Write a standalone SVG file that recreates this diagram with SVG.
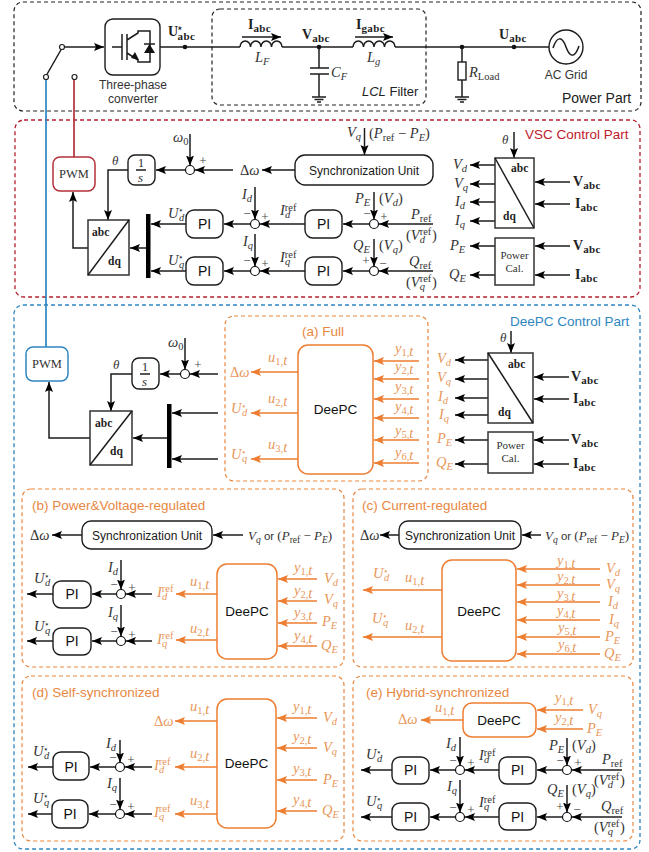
<svg xmlns="http://www.w3.org/2000/svg" width="649" height="852" viewBox="0 0 649 852">
<style>
text{font-family:"Liberation Sans",Arial,sans-serif;fill:#222}
.t{font-size:12px;text-anchor:middle;fill:#1a1a1a}
.sm{font-size:12px;text-anchor:middle;fill:#333}
.pi{font-size:14px;text-anchor:middle;fill:#111}
.dp{font-size:13.5px;text-anchor:middle;fill:#111}
.ttl{font-size:13.5px;fill:#e8873f}
.s{font-family:"Liberation Serif","Times New Roman",serif;font-size:12px;fill:#333;text-anchor:middle}
.b{font-family:"Liberation Serif",serif;font-size:14px;font-weight:bold;fill:#222}
.b tspan{font-size:11px;letter-spacing:.4px}
.m,.om{font-family:"Liberation Serif","Times New Roman",serif;font-size:14.5px;font-style:italic;fill:#333}
.om{fill:#e8975a}
.m tspan,.om tspan{font-size:10.5px}
.m tspan.n,.om tspan.n{font-size:14.5px}
.m tspan.st,.om tspan.st{font-size:9px}
.m.tt{font-size:13px}
.m.tt tspan{font-size:9.5px}
.m.tt tspan.n{font-size:13px}
.m.tt tspan.or{font-family:"Liberation Sans",sans-serif;font-size:11.5px}
.r{font-style:normal}
.pl{font-family:"Liberation Serif",serif;font-size:13px;fill:#444;text-anchor:middle}
.k{fill:none;stroke:#1c1c1c;stroke-width:1.5}
.ka{fill:none;stroke:#1c1c1c;stroke-width:1.5;marker-end:url(#ah)}
.oa{fill:none;stroke:#ed7d31;stroke-width:1.6;marker-end:url(#ao)}
.box{fill:#fff;stroke:#1c1c1c;stroke-width:1.4}
.obox{fill:#fff;stroke:#ed7d31;stroke-width:1.5}
.sq{fill:#fff;stroke:#333;stroke-width:1.5}
.sum{fill:#fff;stroke:#111;stroke-width:1.2}
.bar{fill:#000}
.dk{fill:none;stroke:#222;stroke-width:1.2;stroke-dasharray:4 3}
.dr{fill:none;stroke:#b4202c;stroke-width:1.3;stroke-dasharray:4 3}
.db{fill:none;stroke:#2e86c1;stroke-width:1.3;stroke-dasharray:4 3}
.do{fill:none;stroke:#e8873f;stroke-width:1.2;stroke-dasharray:4 3}
.term{fill:#fff;stroke:#222;stroke-width:1.2}
.dot{fill:#111}
</style>
<defs>
<marker id="ah" markerUnits="userSpaceOnUse" markerWidth="11" markerHeight="9" refX="10" refY="4" orient="auto"><path d="M0 0L10 4 0 8 2 4Z" fill="#000"/></marker>
<marker id="ao" markerUnits="userSpaceOnUse" markerWidth="11" markerHeight="9" refX="10" refY="4" orient="auto"><path d="M0 0L10 4 0 8 2 4Z" fill="#ed7d31"/></marker>
<g id="gnd"><path class="k" d="M-7 0H7M-4.500 2.500H4.500M-2 5H2"/></g>
</defs>

<g id="frames">
<rect class="dk" x="14" y="2" width="627" height="109" rx="9"/>
<rect class="dk" x="212" y="9" width="214" height="96" rx="8"/>
<rect class="dr" x="15" y="120" width="625" height="177" rx="9"/>
<rect class="db" x="14" y="305" width="626" height="544" rx="9"/>
<rect class="do" x="225" y="316" width="203" height="165" rx="9"/>
<rect class="do" x="22" y="489" width="322" height="178" rx="9"/>
<rect class="do" x="353" y="489" width="280" height="178" rx="9"/>
<rect class="do" x="22" y="676" width="322" height="165" rx="9"/>
<rect class="do" x="353" y="676" width="280" height="165" rx="9"/>
<text x="562" y="103" style="font-size:14px">Power Part</text>
<text x="525" y="139" style="font-size:13.500px;fill:#c0202c">VSC Control Part</text>
<text x="510" y="326" style="font-size:13.500px;fill:#2e86c1">DeePC Control Part</text>
<text class="ttl" x="302" y="336">(a) Full</text>
<text class="ttl" x="32" y="510">(b) Power&amp;Voltage-regulated</text>
<text class="ttl" x="362" y="510">(c) Current-regulated</text>
<text class="ttl" x="32" y="697">(d) Self-synchronized</text>
<text class="ttl" x="366" y="697">(e) Hybrid-synchronized</text>
</g>

<g id="connectors">
<!-- power part -->
<path class="ka" d="M62 47H104"/>
<path class="k" d="M160 47H240M282 47H353M395 47H549"/>
<path class="k" d="M46 76L62 48"/>
<path fill="none" stroke="#2e86c1" stroke-width="1.700" d="M46 80V347"/>
<path fill="none" stroke="#b4303a" stroke-width="1.700" d="M74 80V157"/>
<path class="k" d="M319 47V68M319 74V97M462 47V62M462 80V97"/>
<path class="ka" d="M242 37H281"/>
<path class="ka" d="M355 37H393"/>
<!-- VSC -->
<path class="ka" d="M88 248H73V192"/>
<path class="ka" d="M128 170H108V220"/>
<path class="ka" d="M185.500 170H156"/>
<path class="ka" d="M190 134V165.500"/>
<path class="ka" d="M233 170H195"/>
<path class="ka" d="M295 170H262"/>
<path class="ka" d="M364.500 128V155"/>
<path class="ka" d="M186 224H151"/>
<path class="ka" d="M186 271H151"/>
<path class="ka" d="M146 248H130"/>
<path class="ka" d="M250.500 224H224"/>
<path class="ka" d="M250.500 271H224"/>
<path class="ka" d="M255 187V219.500"/>
<path class="ka" d="M255 234V266.500"/>
<path class="ka" d="M305 224H260"/>
<path class="ka" d="M305 271H260"/>
<path class="ka" d="M369.500 224H343"/>
<path class="ka" d="M369.500 271H343"/>
<path class="ka" d="M374 192V219.500"/>
<path class="ka" d="M374 239V266.500"/>
<path class="ka" d="M433 224H379"/>
<path class="ka" d="M433 271H379"/>
<path class="ka" d="M514 132V158"/>
<path class="ka" d="M495 165H470"/>
<path class="ka" d="M495 184H470"/>
<path class="ka" d="M495 202H470"/>
<path class="ka" d="M495 221H470"/>
<path class="ka" d="M570 182H535"/>
<path class="ka" d="M570 204H535"/>
<path class="ka" d="M495 246H470"/>
<path class="ka" d="M495 275H470"/>
<path class="ka" d="M570 246H535"/>
<path class="ka" d="M570 275H535"/>
<!-- DeePC main -->
<path class="ka" d="M90 438H49V382"/>
<path class="ka" d="M132 374H111V411"/>
<path class="ka" d="M180.500 374H160"/>
<path class="ka" d="M185 338V369.500"/>
<path class="ka" d="M218 374H190"/>
<path class="ka" d="M218 413H172"/>
<path class="ka" d="M218 459H172"/>
<path class="ka" d="M167 438H133"/>
<path class="oa" d="M298 372H251"/>
<path class="oa" d="M298 413H251"/>
<path class="oa" d="M298 459H251"/>
<path class="oa" d="M419 361H374"/>
<path class="oa" d="M419 379H374"/>
<path class="oa" d="M419 399H374"/>
<path class="oa" d="M419 418H374"/>
<path class="oa" d="M419 440H374"/>
<path class="oa" d="M419 463H374"/>
<path class="ka" d="M511 331V353"/>
<path class="ka" d="M488 360H455"/>
<path class="ka" d="M488 379H455"/>
<path class="ka" d="M488 398H455"/>
<path class="ka" d="M488 415H455"/>
<path class="ka" d="M569 377H534"/>
<path class="ka" d="M569 399H534"/>
<path class="ka" d="M488 440H455"/>
<path class="ka" d="M488 464H455"/>
<path class="ka" d="M569 440H534"/>
<path class="ka" d="M569 464H534"/>
<!-- b -->
<path class="ka" d="M82 535H52"/>
<path class="ka" d="M243 535H213"/>
<path class="ka" d="M53 594H27"/>
<path class="ka" d="M53 641H27"/>
<path class="ka" d="M116.500 594H92"/>
<path class="ka" d="M116.500 641H92"/>
<path class="ka" d="M121 560V589.500"/>
<path class="ka" d="M121 605V636.500"/>
<path class="ka" d="M152 594H126"/>
<path class="ka" d="M152 641H126"/>
<path class="oa" d="M217 594H176"/>
<path class="oa" d="M217 640H176"/>
<path class="oa" d="M317 579H278"/>
<path class="oa" d="M317 601H278"/>
<path class="oa" d="M317 623H278"/>
<path class="oa" d="M317 646H278"/>
<!-- c -->
<path class="ka" d="M399 535H380"/>
<path class="ka" d="M541 535H522"/>
<path class="oa" d="M442 590H363"/>
<path class="oa" d="M442 637H363"/>
<path class="oa" d="M600 569H517"/>
<path class="oa" d="M600 585H517"/>
<path class="oa" d="M600 602H517"/>
<path class="oa" d="M600 620H517"/>
<path class="oa" d="M600 637H517"/>
<path class="oa" d="M600 654H517"/>
<!-- d -->
<path class="oa" d="M217 721H175"/>
<path class="oa" d="M217 767H175"/>
<path class="oa" d="M217 814H175"/>
<path class="oa" d="M317 718H277"/>
<path class="oa" d="M317 748H277"/>
<path class="oa" d="M317 780H277"/>
<path class="oa" d="M317 811H277"/>
<path class="ka" d="M53 767H28"/>
<path class="ka" d="M52 814H28"/>
<path class="ka" d="M115.500 767H90"/>
<path class="ka" d="M115.500 814H89"/>
<path class="ka" d="M120 740V762.500"/>
<path class="ka" d="M120 778V809.500"/>
<path class="ka" d="M152 767H125"/>
<path class="ka" d="M152 814H125"/>
<!-- e -->
<path class="oa" d="M463 720H421"/>
<path class="oa" d="M583 710H537"/>
<path class="oa" d="M583 729H537"/>
<path class="ka" d="M392 770H361"/>
<path class="ka" d="M392 817H361"/>
<path class="ka" d="M455.500 770H430"/>
<path class="ka" d="M455.500 817H430"/>
<path class="ka" d="M460 737V765.500"/>
<path class="ka" d="M460 780V812.500"/>
<path class="ka" d="M499 770H465"/>
<path class="ka" d="M499 817H465"/>
<path class="ka" d="M562.500 770H537"/>
<path class="ka" d="M562.500 817H537"/>
<path class="ka" d="M567 738V765.500"/>
<path class="ka" d="M567 785V812.500"/>
<path class="ka" d="M622 770H572"/>
<path class="ka" d="M622 817H572"/>
</g>

<g id="switch">
<circle class="term" cx="62" cy="47" r="2.500"/><circle class="term" cx="46" cy="77" r="2.500"/><circle class="term" cx="74.500" cy="77" r="2.500"/>
</g>
<g id="inverter">
<rect class="box" x="105" y="19" width="55" height="56" rx="8"/>
<path class="k" d="M112 47H122M122 34V60M127 34V60M127 40L138 33V31H150V62H138V60L127 53" stroke-width="1.200"/>
<path d="M139 60L131 58 135 52Z" fill="#111"/>
<path d="M144 53H155L149.500 44Z" fill="#111"/><path class="k" d="M144 44H155"/>
<text class="sm" x="133" y="89">Three-phase</text>
<text class="sm" x="133" y="103">converter</text>
<text class="b" x="168" y="36">U<tspan dx="-1" dy="-5" style="font-size:9px">⋆</tspan><tspan dx="-6" dy="9">abc</tspan></text>
</g>
<g id="lcl-filter">
<path class="k" d="M240 47a5.250 6 0 0 1 10.500 0a5.250 6 0 0 1 10.500 0a5.250 6 0 0 1 10.500 0a5.250 6 0 0 1 10.500 0M353 47a5.250 6 0 0 1 10.500 0a5.250 6 0 0 1 10.500 0a5.250 6 0 0 1 10.500 0a5.250 6 0 0 1 10.500 0"/>
<path class="k" d="M310 68H329M310 74H329"/>
<use href="#gnd" x="319" y="97"/>
<circle class="dot" cx="185" cy="47" r="2.300"/><circle class="dot" cx="319" cy="47" r="2.300"/><circle class="dot" cx="462" cy="47" r="2.300"/><circle class="dot" cx="514" cy="47" r="2.300"/>
<text class="b" x="248" y="29">I<tspan dy="3">abc</tspan></text>
<text class="b" x="356" y="29">I<tspan dy="3">gabc</tspan></text>
<text class="b" x="302" y="39">V<tspan dy="3">abc</tspan></text>
<text class="b" x="499" y="39">U<tspan dy="3">abc</tspan></text>
<text class="m" x="255" y="62">L<tspan dy="3">F</tspan></text>
<text class="m" x="367" y="62">L<tspan dy="3">g</tspan></text>
<text class="m" x="331" y="77">C<tspan dy="3">F</tspan></text>
<text x="362" y="96" style="font-size:13px"><tspan font-style="italic">LCL</tspan> Filter</text>
</g>
<g id="load">
<rect class="box" x="458" y="62" width="8" height="18"/>
<use href="#gnd" x="462" y="97"/>
<text class="m" x="469" y="77">R<tspan class="r" dy="3">Load</tspan></text>
</g>
<g id="grid">
<circle class="box" cx="566" cy="47" r="17"/>
<path class="k" d="M553 48C557 36 562 36 566 47S575 58 579 46"/>
<text class="sm" x="566" y="79">AC Grid</text>
</g>

<g id="vsc-pwm"><rect x="53" y="157" width="42" height="34" rx="7" fill="#fff" stroke="#b4303a" stroke-width="1.500"/><text class="s" x="74" y="178" style="font-size:12.500px">PWM</text></g>
<g id="vsc-int"><rect class="box" x="128" y="155" width="27" height="30" rx="7"/><path class="k" d="M136 170H146" stroke-width="1"/><text class="s" x="141" y="167" style="font-size:13px">1</text><text class="m" x="138" y="182" style="font-size:13px">s</text></g>
<g id="vsc-parkL"><rect class="sq" x="88" y="220" width="41" height="55"/><path class="k" d="M88 275L129 220" stroke-width="1"/><text class="b" x="92" y="236" style="font-size:11.500px">abc</text><text class="b" x="108" y="265" style="font-size:11.500px">dq</text></g>
<g id="vsc-bar"><rect class="bar" x="146" y="214" width="4.500" height="64"/></g>
<g id="vsc-pi"><rect class="box" x="186" y="210" width="37" height="28" rx="8"/><text class="pi" x="204.500" y="229">PI</text><rect class="box" x="186" y="257" width="37" height="28" rx="8"/><text class="pi" x="204.500" y="276">PI</text><rect class="box" x="305" y="210" width="37" height="28" rx="8"/><text class="pi" x="323.500" y="229">PI</text><rect class="box" x="305" y="257" width="37" height="28" rx="8"/><text class="pi" x="323.500" y="276">PI</text></g>
<g id="vsc-sync"><rect class="box" x="295" y="155" width="138" height="30" rx="10"/><text class="t" x="364" y="175">Synchronization Unit</text></g>
<g id="vsc-sum"><circle class="sum" cx="190" cy="170" r="4.500"/><circle class="sum" cx="255" cy="224" r="4.500"/><circle class="sum" cx="255" cy="271" r="4.500"/><circle class="sum" cx="374" cy="224" r="4.500"/><circle class="sum" cx="374" cy="271" r="4.500"/>
<text class="pl" x="203" y="165">+</text><text class="pl" x="247" y="218">−</text><text class="pl" x="265" y="221">+</text><text class="pl" x="247" y="265">−</text><text class="pl" x="265" y="268">+</text><text class="pl" x="367" y="218">−</text><text class="pl" x="384" y="221">+</text><text class="pl" x="366" y="265">+</text><text class="pl" x="383" y="268">−</text></g>
<g id="vsc-parkR"><rect class="sq" x="495" y="158" width="39" height="70"/><path class="k" d="M495 158L534 228" stroke-width="1"/><text class="b" x="511" y="172" style="font-size:11.500px">abc</text><text class="b" x="503" y="220" style="font-size:11.500px">dq</text></g>
<g id="vsc-power"><rect class="sq" x="495" y="238" width="39" height="47"/><text class="s" x="514.500" y="259" style="font-size:11px">Power</text><text class="s" x="514.500" y="272" style="font-size:11px">Cal.</text></g>
<g id="vsc-labels">
<text class="m" x="173" y="142">ω<tspan class="r" dy="3">0</tspan></text>
<text class="m" x="112" y="165" style="font-size:13px">θ</text>
<text class="m" x="240" y="175"><tspan class="n r">Δ</tspan>ω</text>
<text class="m" x="347" y="137">V<tspan dy="3">q</tspan></text>
<text class="m" x="369" y="138"><tspan class="n r">(</tspan>P<tspan class="r" dy="3">ref</tspan><tspan class="n r" dy="-3"> − </tspan>P<tspan dy="3">E</tspan><tspan class="n r" dy="-3">)</tspan></text>
<text class="m" x="168" y="218">U<tspan class="st r" dy="-5">⋆</tspan><tspan dx="-5.500" dy="8">d</tspan></text>
<text class="m" x="168" y="265">U<tspan class="st r" dy="-5">⋆</tspan><tspan dx="-5.500" dy="8">q</tspan></text>
<text class="m" x="242" y="199">I<tspan dy="3">d</tspan></text>
<text class="m" x="243" y="246">I<tspan dy="3">q</tspan></text>
<text class="m" x="280" y="215">I<tspan class="r" dy="-4">ref</tspan><tspan dx="-11.500" dy="7">d</tspan></text>
<text class="m" x="280" y="262">I<tspan class="r" dy="-4">ref</tspan><tspan dx="-11.500" dy="7">q</tspan></text>
<text class="m" x="355" y="203">P<tspan dy="3">E</tspan></text>
<text class="m" x="379" y="203"><tspan class="n r">(</tspan>V<tspan dy="3">d</tspan><tspan class="n r" dy="-3">)</tspan></text>
<text class="m" x="353" y="250">Q<tspan dy="3">E</tspan></text>
<text class="m" x="379" y="250"><tspan class="n r">(</tspan>V<tspan dy="3">q</tspan><tspan class="n r" dy="-3">)</tspan></text>
<text class="m" x="411" y="219">P<tspan class="r" dy="3">ref</tspan></text>
<text class="m" x="409" y="266">Q<tspan class="r" dy="3">ref</tspan></text>
<text class="m" x="406" y="240"><tspan class="n r">(</tspan>V<tspan class="r" dy="-5">ref</tspan><tspan dx="-11.500" dy="8">d</tspan><tspan class="n r" dx="7" dy="-3">)</tspan></text>
<text class="m" x="406" y="287"><tspan class="n r">(</tspan>V<tspan class="r" dy="-5">ref</tspan><tspan dx="-11.500" dy="8">q</tspan><tspan class="n r" dx="7" dy="-3">)</tspan></text>
<text class="m" x="502" y="144" style="font-size:13px">θ</text>
<text class="m" x="453" y="169">V<tspan dy="3">d</tspan></text>
<text class="m" x="454" y="188">V<tspan dy="3">q</tspan></text>
<text class="m" x="455" y="206">I<tspan dy="3">d</tspan></text>
<text class="m" x="455" y="225">I<tspan dy="3">q</tspan></text>
<text class="m" x="450" y="250">P<tspan dy="3">E</tspan></text>
<text class="m" x="449" y="279">Q<tspan dy="3">E</tspan></text>
<text class="b" x="573" y="186">V<tspan dy="3">abc</tspan></text>
<text class="b" x="575" y="208">I<tspan dy="3">abc</tspan></text>
<text class="b" x="573" y="250">V<tspan dy="3">abc</tspan></text>
<text class="b" x="575" y="279">I<tspan dy="3">abc</tspan></text>
</g>

<g id="dee-pwm"><rect x="26" y="347" width="42" height="34" rx="7" fill="#fff" stroke="#2e86c1" stroke-width="1.500"/><text class="s" x="47" y="368" style="font-size:12.500px">PWM</text></g>
<g id="dee-int"><rect class="box" x="132" y="358" width="27" height="31" rx="7"/><path class="k" d="M140 374H150" stroke-width="1"/><text class="s" x="145" y="371" style="font-size:13px">1</text><text class="m" x="142" y="386" style="font-size:13px">s</text></g>
<g id="dee-sum"><circle class="sum" cx="185" cy="374" r="4.500"/><text class="pl" x="198" y="369">+</text></g>
<g id="dee-parkL"><rect class="sq" x="90" y="411" width="42" height="54"/><path class="k" d="M90 465L132 411" stroke-width="1"/><text class="b" x="95" y="427" style="font-size:11.500px">abc</text><text class="b" x="110" y="455" style="font-size:11.500px">dq</text></g>
<g id="dee-bar"><rect class="bar" x="167" y="404" width="4.500" height="64"/></g>
<g id="a-deepc"><rect class="obox" x="298" y="345" width="75" height="129" rx="10"/><text class="dp" x="335.500" y="414">DeePC</text></g>
<g id="dee-parkR"><rect class="sq" x="488" y="353" width="45" height="70"/><path class="k" d="M488 353L533 423" stroke-width="1"/><text class="b" x="508" y="368" style="font-size:11.500px">abc</text><text class="b" x="498" y="416" style="font-size:11.500px">dq</text></g>
<g id="dee-power"><rect class="sq" x="488" y="432" width="45" height="41"/><text class="s" x="510.500" y="449" style="font-size:11px">Power</text><text class="s" x="510.500" y="462" style="font-size:11px">Cal.</text></g>
<g id="a-labels">
<text class="m" x="168" y="347">ω<tspan class="r" dy="3">0</tspan></text>
<text class="m" x="113" y="369" style="font-size:13px">θ</text>
<text class="om" x="230" y="377"><tspan class="n r">Δ</tspan>ω</text>
<text class="om" x="231" y="413">U<tspan class="st r" dy="-4">⋆</tspan><tspan dx="-5.500" dy="7">d</tspan></text>
<text class="om" x="231" y="459">U<tspan class="st r" dy="-4">⋆</tspan><tspan dx="-5.500" dy="7">q</tspan></text>
<text class="om" x="268" y="362">u<tspan class="r" dy="3">1,</tspan>t</text>
<text class="om" x="268" y="403">u<tspan class="r" dy="3">2,</tspan>t</text>
<text class="om" x="268" y="449">u<tspan class="r" dy="3">3,</tspan>t</text>
<text class="om" x="395" y="353">y<tspan class="r" dy="3">1,</tspan>t</text>
<text class="om" x="395" y="371">y<tspan class="r" dy="3">2,</tspan>t</text>
<text class="om" x="395" y="391">y<tspan class="r" dy="3">3,</tspan>t</text>
<text class="om" x="395" y="411">y<tspan class="r" dy="3">4,</tspan>t</text>
<text class="om" x="395" y="435">y<tspan class="r" dy="3">5,</tspan>t</text>
<text class="om" x="395" y="457">y<tspan class="r" dy="3">6,</tspan>t</text>
<text class="om" x="437" y="363">V<tspan dy="3">d</tspan></text>
<text class="om" x="437" y="382">V<tspan dy="3">q</tspan></text>
<text class="om" x="438" y="401">I<tspan dy="3">d</tspan></text>
<text class="om" x="439" y="419">I<tspan dy="3">q</tspan></text>
<text class="om" x="437" y="443">P<tspan dy="3">E</tspan></text>
<text class="om" x="436" y="467">Q<tspan dy="3">E</tspan></text>
<text class="m" x="500" y="342" style="font-size:13px">θ</text>
<text class="b" x="571" y="381">V<tspan dy="3">abc</tspan></text>
<text class="b" x="573" y="403">I<tspan dy="3">abc</tspan></text>
<text class="b" x="571" y="444">V<tspan dy="3">abc</tspan></text>
<text class="b" x="573" y="468">I<tspan dy="3">abc</tspan></text>
</g>

<g id="b-sync"><rect class="box" x="82" y="521" width="130" height="28" rx="9"/><text class="t" x="147" y="540">Synchronization Unit</text></g>
<g id="b-pi"><rect class="box" x="53" y="581" width="38" height="27" rx="8"/><text class="pi" x="72" y="599">PI</text><rect class="box" x="53" y="628" width="38" height="27" rx="8"/><text class="pi" x="72" y="646">PI</text></g>
<g id="b-sum"><circle class="sum" cx="121" cy="594" r="4.500"/><circle class="sum" cx="121" cy="641" r="4.500"/><text class="pl" x="114" y="589">−</text><text class="pl" x="132" y="592">+</text><text class="pl" x="114" y="636">−</text><text class="pl" x="132" y="639">+</text></g>
<g id="b-deepc"><rect class="obox" x="217" y="564" width="60" height="95" rx="10"/><text class="dp" x="247" y="616">DeePC</text></g>
<g id="b-labels">
<text class="m" x="30" y="540"><tspan class="n r">Δ</tspan>ω</text>
<text class="m tt" x="248" y="540">V<tspan dy="3">q</tspan><tspan class="or r" dy="-3"> or </tspan><tspan class="n r">(</tspan>P<tspan class="r" dy="3">ref</tspan><tspan class="n r" dy="-3"> − </tspan>P<tspan dy="3">E</tspan><tspan class="n r" dy="-3">)</tspan></text>
<text class="m" x="34" y="583">U<tspan class="st r" dy="-4">⋆</tspan><tspan dx="-5.500" dy="7">d</tspan></text>
<text class="m" x="34" y="631">U<tspan class="st r" dy="-4">⋆</tspan><tspan dx="-5.500" dy="7">q</tspan></text>
<text class="m" x="108" y="572">I<tspan dy="3">d</tspan></text>
<text class="m" x="108" y="617">I<tspan dy="3">q</tspan></text>
<text class="om" x="157" y="597">I<tspan class="r" dy="-5">ref</tspan><tspan dx="-11.500" dy="8">d</tspan></text>
<text class="om" x="157" y="644">I<tspan class="r" dy="-5">ref</tspan><tspan dx="-11.500" dy="8">q</tspan></text>
<text class="om" x="190" y="586">u<tspan class="r" dy="3">1,</tspan>t</text>
<text class="om" x="190" y="633">u<tspan class="r" dy="3">2,</tspan>t</text>
<text class="om" x="294" y="572">y<tspan class="r" dy="3">1,</tspan>t</text>
<text class="om" x="294" y="595">y<tspan class="r" dy="3">2,</tspan>t</text>
<text class="om" x="294" y="617">y<tspan class="r" dy="3">3,</tspan>t</text>
<text class="om" x="294" y="640">y<tspan class="r" dy="3">4,</tspan>t</text>
<text class="om" x="324" y="583">V<tspan dy="3">d</tspan></text>
<text class="om" x="324" y="604">V<tspan dy="3">q</tspan></text>
<text class="om" x="322" y="626">P<tspan dy="3">E</tspan></text>
<text class="om" x="321" y="650">Q<tspan dy="3">E</tspan></text>
</g>

<g id="c-sync"><rect class="box" x="399" y="521" width="122" height="28" rx="9"/><text class="t" x="460" y="540">Synchronization Unit</text></g>
<g id="c-deepc"><rect class="obox" x="442" y="560" width="74" height="101" rx="10"/><text class="dp" x="479" y="616">DeePC</text></g>
<g id="c-labels">
<text class="m" x="360" y="540"><tspan class="n r">Δ</tspan>ω</text>
<text class="m tt" x="545" y="540">V<tspan dy="3">q</tspan><tspan class="or r" dy="-3"> or </tspan><tspan class="n r">(</tspan>P<tspan class="r" dy="3">ref</tspan><tspan class="n r" dy="-3"> − </tspan>P<tspan dy="3">E</tspan><tspan class="n r" dy="-3">)</tspan></text>
<text class="om" x="373" y="578">U<tspan class="st r" dy="-4">⋆</tspan><tspan dx="-5.500" dy="7">d</tspan></text>
<text class="om" x="372" y="623">U<tspan class="st r" dy="-4">⋆</tspan><tspan dx="-5.500" dy="7">q</tspan></text>
<text class="om" x="405" y="582">u<tspan class="r" dy="3">1,</tspan>t</text>
<text class="om" x="405" y="630">u<tspan class="r" dy="3">2,</tspan>t</text>
<text class="om" x="557" y="565">y<tspan class="r" dy="3">1,</tspan>t</text>
<text class="om" x="557" y="581">y<tspan class="r" dy="3">2,</tspan>t</text>
<text class="om" x="557" y="598">y<tspan class="r" dy="3">3,</tspan>t</text>
<text class="om" x="557" y="615">y<tspan class="r" dy="3">4,</tspan>t</text>
<text class="om" x="558" y="632">y<tspan class="r" dy="3">5,</tspan>t</text>
<text class="om" x="558" y="649">y<tspan class="r" dy="3">6,</tspan>t</text>
<text class="om" x="606" y="573">V<tspan dy="3">d</tspan></text>
<text class="om" x="606" y="589">V<tspan dy="3">q</tspan></text>
<text class="om" x="608" y="606">I<tspan dy="3">d</tspan></text>
<text class="om" x="609" y="624">I<tspan dy="3">q</tspan></text>
<text class="om" x="605" y="641">P<tspan dy="3">E</tspan></text>
<text class="om" x="604" y="658">Q<tspan dy="3">E</tspan></text>
</g>

<g id="d-pi"><rect class="box" x="53" y="752" width="36" height="28" rx="8"/><text class="pi" x="71" y="772">PI</text><rect class="box" x="52" y="800" width="36" height="28" rx="8"/><text class="pi" x="70" y="819">PI</text></g>
<g id="d-sum"><circle class="sum" cx="120" cy="767" r="4.500"/><circle class="sum" cx="120" cy="814" r="4.500"/><text class="pl" x="113" y="762">−</text><text class="pl" x="131" y="764">+</text><text class="pl" x="113" y="809">−</text><text class="pl" x="131" y="811">+</text></g>
<g id="d-deepc"><rect class="obox" x="217" y="699" width="59" height="129" rx="10"/><text class="dp" x="246.500" y="768">DeePC</text></g>
<g id="d-labels">
<text class="om" x="154" y="726"><tspan class="n r">Δ</tspan>ω</text>
<text class="om" x="154" y="770">I<tspan class="r" dy="-5">ref</tspan><tspan dx="-11.500" dy="8">d</tspan></text>
<text class="om" x="154" y="817">I<tspan class="r" dy="-5">ref</tspan><tspan dx="-11.500" dy="8">q</tspan></text>
<text class="om" x="190" y="711">u<tspan class="r" dy="3">1,</tspan>t</text>
<text class="om" x="190" y="758">u<tspan class="r" dy="3">2,</tspan>t</text>
<text class="om" x="190" y="805">u<tspan class="r" dy="3">3,</tspan>t</text>
<text class="om" x="293" y="711">y<tspan class="r" dy="3">1,</tspan>t</text>
<text class="om" x="293" y="741">y<tspan class="r" dy="3">2,</tspan>t</text>
<text class="om" x="293" y="773">y<tspan class="r" dy="3">3,</tspan>t</text>
<text class="om" x="293" y="804">y<tspan class="r" dy="3">4,</tspan>t</text>
<text class="om" x="323" y="722">V<tspan dy="3">d</tspan></text>
<text class="om" x="323" y="752">V<tspan dy="3">q</tspan></text>
<text class="om" x="323" y="784">P<tspan dy="3">E</tspan></text>
<text class="om" x="322" y="815">Q<tspan dy="3">E</tspan></text>
<text class="m" x="33" y="756">U<tspan class="st r" dy="-4">⋆</tspan><tspan dx="-5.500" dy="7">d</tspan></text>
<text class="m" x="33" y="803">U<tspan class="st r" dy="-4">⋆</tspan><tspan dx="-5.500" dy="7">q</tspan></text>
<text class="m" x="106" y="748">I<tspan dy="3">d</tspan></text>
<text class="m" x="107" y="788">I<tspan dy="3">q</tspan></text>
</g>

<g id="e-deepc"><rect class="obox" x="463" y="703" width="73" height="34" rx="9"/><text class="dp" x="499" y="725">DeePC</text></g>
<g id="e-pi"><rect class="box" x="392" y="757" width="37" height="27" rx="8"/><text class="pi" x="410.500" y="775">PI</text><rect class="box" x="392" y="803" width="37" height="27" rx="8"/><text class="pi" x="410.500" y="822">PI</text><rect class="box" x="499" y="757" width="37" height="27" rx="8"/><text class="pi" x="517.500" y="775">PI</text><rect class="box" x="499" y="803" width="37" height="27" rx="8"/><text class="pi" x="517.500" y="822">PI</text></g>
<g id="e-sum"><circle class="sum" cx="460" cy="770" r="4.500"/><circle class="sum" cx="460" cy="817" r="4.500"/><circle class="sum" cx="567" cy="770" r="4.500"/><circle class="sum" cx="567" cy="817" r="4.500"/>
<text class="pl" x="453" y="765">−</text><text class="pl" x="471" y="767">+</text><text class="pl" x="453" y="812">−</text><text class="pl" x="471" y="814">+</text><text class="pl" x="560" y="765">−</text><text class="pl" x="578" y="767">+</text><text class="pl" x="560" y="811">+</text><text class="pl" x="577" y="814">−</text></g>
<g id="e-labels">
<text class="om" x="398" y="724"><tspan class="n r">Δ</tspan>ω</text>
<text class="om" x="435" y="712">u<tspan class="r" dy="3">1,</tspan>t</text>
<text class="om" x="555" y="702">y<tspan class="r" dy="3">1,</tspan>t</text>
<text class="om" x="555" y="722">y<tspan class="r" dy="3">2,</tspan>t</text>
<text class="om" x="588" y="714">V<tspan dy="3">q</tspan></text>
<text class="om" x="587" y="733">P<tspan dy="3">E</tspan></text>
<text class="m" x="366" y="759">U<tspan class="st r" dy="-4">⋆</tspan><tspan dx="-5.500" dy="7">d</tspan></text>
<text class="m" x="366" y="806">U<tspan class="st r" dy="-4">⋆</tspan><tspan dx="-5.500" dy="7">q</tspan></text>
<text class="m" x="446" y="748">I<tspan dy="3">d</tspan></text>
<text class="m" x="447" y="791">I<tspan dy="3">q</tspan></text>
<text class="m" x="479" y="760">I<tspan class="r" dy="-4">ref</tspan><tspan dx="-11.500" dy="7">d</tspan></text>
<text class="m" x="479" y="807">I<tspan class="r" dy="-4">ref</tspan><tspan dx="-11.500" dy="7">q</tspan></text>
<text class="m" x="549" y="750">P<tspan dy="3">E</tspan></text>
<text class="m" x="572" y="750"><tspan class="n r">(</tspan>V<tspan dy="3">d</tspan><tspan class="n r" dy="-3">)</tspan></text>
<text class="m" x="547" y="794">Q<tspan dy="3">E</tspan></text>
<text class="m" x="572" y="794"><tspan class="n r">(</tspan>V<tspan dy="3">q</tspan><tspan class="n r" dy="-3">)</tspan></text>
<text class="m" x="602" y="764">P<tspan class="r" dy="3">ref</tspan></text>
<text class="m" x="601" y="811">Q<tspan class="r" dy="3">ref</tspan></text>
<text class="m" x="594" y="785"><tspan class="n r">(</tspan>V<tspan class="r" dy="-5">ref</tspan><tspan dx="-11.500" dy="8">d</tspan><tspan class="n r" dx="7" dy="-3">)</tspan></text>
<text class="m" x="594" y="832"><tspan class="n r">(</tspan>V<tspan class="r" dy="-5">ref</tspan><tspan dx="-11.500" dy="8">q</tspan><tspan class="n r" dx="7" dy="-3">)</tspan></text>
</g>
</svg>
